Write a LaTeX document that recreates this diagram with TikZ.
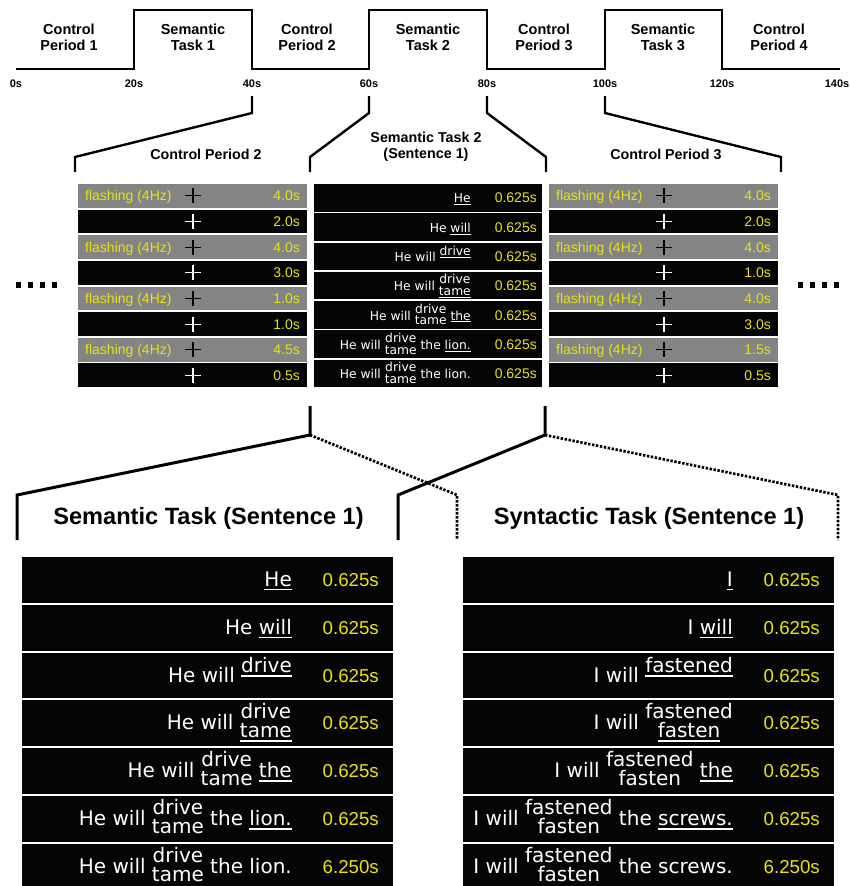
\documentclass[tikz,border=0pt]{standalone}
\usepackage{fontspec}
\setmainfont{Liberation Sans}
\newfontfamily\dejavu{DejaVu Sans}
\definecolor{ylw}{RGB}{232,226,20}
\definecolor{gry}{RGB}{132,132,132}
\definecolor{blk}{RGB}{5,5,5}
\newcommand\ul[1]{\setbox0\hbox{#1}\rlap{\rule[-0.2em]{\wd0}{0.08em}}\box0}
\newcommand\stk[2]{\setbox1\hbox{#1}\setbox2\hbox{#2}%
  \dimen0=\wd1 \ifdim\wd2>\dimen0 \dimen0=\wd2\fi
  \hbox to\dimen0{\hss\raisebox{0.55em}{\box1}\hss}\kern-\dimen0
  \hbox to\dimen0{\hss\raisebox{-0.4em}{\box2}\hss}}
\newcommand\stkt[1]{\raisebox{0.47em}{#1}}
\tikzset{
 tl/.style={line width=2.6pt, line join=miter},
 br/.style={line width=2.4pt, line join=miter},
 bc/.style={line width=3pt, line join=miter},
 bd/.style={line width=2.7pt, dash pattern=on 2.4pt off 1.6pt},
 lab/.style={font=\bfseries\fontsize{14.5}{16.5}\selectfont, align=center, inner sep=0pt},
 tick/.style={font=\bfseries\fontsize{11}{13}\selectfont, inner sep=0pt, anchor=base},
 ttl/.style={font=\bfseries\fontsize{14.3}{16}\selectfont, inner sep=0pt, align=center},
 bttl/.style={font=\bfseries\fontsize{23.6}{26}\selectfont, inner sep=0pt, anchor=base},
 flash/.style={font=\fontsize{14}{16}\selectfont, text=ylw, inner sep=0pt, anchor=base west},
 tsm/.style={font=\fontsize{14}{16}\selectfont, text=ylw, inner sep=0pt, anchor=base east},
 tbg/.style={font=\fontsize{18.7}{22}\selectfont, text=ylw, inner sep=0pt, anchor=base east},
 ssm/.style={font=\dejavu\fontsize{12.3}{14}\selectfont, text=white, inner sep=0pt, anchor=base east},
 sbg/.style={font=\dejavu\fontsize{20}{24}\selectfont, text=white, inner sep=0pt, anchor=base east},
 crw/.style={draw=white, line width=1.05pt},
 crb/.style={draw=black, line width=1.05pt},
}
\newcommand\sidepanel[3]{%
 \foreach \i/\tm in {#3}{%
   \pgfmathsetmacro\yt{184+\i*25.625}%
   \pgfmathsetmacro\yc{\yt+11.9}%
   \ifodd\i
     \fill[blk] (#1,\yt) rectangle ++(229,23.8);
     \draw[crw] (#1+107,\yc) -- ++(16,0) (#1+115,\yc-7.5) -- ++(0,15);
   \else
     \fill[gry] (#1,\yt) rectangle ++(229,23.8);
     \node[flash] (#2f\i) at (#1+7,\yc+5) {flashing (4Hz)};
     \draw[crb] (#1+107,\yc) -- ++(16,0) (#1+115,\yc-7.5) -- ++(0,15);
   \fi
   \node[tsm] (#2t\i) at (#1+222,\yc+5) {\tm};
 }}
\begin{document}
\begin{tikzpicture}[x=1pt,y=-1pt]
\useasboundingbox (0,0) rectangle (849,886);
\fill[white] (0,0) rectangle (849,886);
% timeline
\draw[tl] (16,69) -- (134,69) -- (134,10) -- (252,10) -- (252,69) -- (369,69) -- (369,10) -- (487,10) -- (487,69) -- (605,69) -- (605,10) -- (722,10) -- (722,69) -- (840,69);
\node[lab] (cp1) at (69,37.5) {Control\\Period 1};
\node[lab] (st1) at (193,37.5) {Semantic\\Task 1};
\node[lab] (cp2) at (307,37.5) {Control\\Period 2};
\node[lab] (st2) at (428,37.5) {Semantic\\Task 2};
\node[lab] (cp3) at (544,37.5) {Control\\Period 3};
\node[lab] (st3) at (663,37.5) {Semantic\\Task 3};
\node[lab] (cp4) at (779,37.5) {Control\\Period 4};
\foreach \tm/\x in {0/16,20/134,40/252,60/369,80/487,100/605,120/722}
  \node[tick] (tk\tm) at (\x,87.5) {\tm s};
\node[tick] (tk140) at (837,87.5) {140s};
% middle brackets
\draw[br] (252,96) -- (252,113) -- (75,157) -- (75,172);
\draw[br] (369,96) -- (369,113) -- (310,157) -- (310,172);
\draw[br] (487,96) -- (487,113) -- (546,157) -- (546,172);
\draw[br] (605,96) -- (605,113) -- (781,157) -- (781,172);
\node[ttl, anchor=base] (tcp2) at (206,159.5) {Control Period 2};
\node[ttl] (tst2) at (426,147) {Semantic Task 2\\(Sentence 1)};
\node[ttl, anchor=base] (tcp3) at (666,159.5) {Control Period 3};
% side panels
\sidepanel{78}{L}{0/4.0s,1/2.0s,2/4.0s,3/3.0s,4/1.0s,5/1.0s,6/4.5s,7/0.5s}
\sidepanel{549}{R}{0/4.0s,1/2.0s,2/4.0s,3/1.0s,4/4.0s,5/3.0s,6/1.5s,7/0.5s}
% dots
\foreach \x in {18.5,30.5,42.5,54.5,800.5,812.5,824.5,836.5}
  \fill (\x-2.6,285-2.6) rectangle ++(5.2,5.2);
% centre panel
\foreach \i in {0,...,6} \fill[blk] (314,184+\i*29.29) rectangle ++(228,27.6);
\node[ssm] (c1) at (471,202.8) {\ul{He}};
\node[ssm] (c2) at (471,232.1) {He \ul{will}};
\node[ssm] (c3) at (471,261.4) {He will \stkt{\ul{drive}}};
\node[ssm] (c4) at (471,290.7) {He will \stk{drive}{\ul{tame}}};
\node[ssm] (c5) at (471,320.0) {He will \stk{drive}{tame} \ul{the}};
\node[ssm] (c6) at (471,349.3) {He will \stk{drive}{tame} the \ul{lion.}};
\node[ssm] (c7) at (471,378.5) {He will \stk{drive}{tame} the lion.};
\foreach \i/\y in {1/202.8,2/232.1,3/261.4,4/290.7,5/320.0,6/349.3,7/378.5}
  \node[tsm] (ct\i) at (537,\y) {0.625s};
% bottom connectors
\draw[bc] (310,406) -- (310,435) -- (17,495) -- (17,540);
\draw[bd] (310,435) -- (457,495) -- (457,540);
\draw[bd] (545,435) -- (838,495) -- (838,540);
\draw[bc] (545,406) -- (545,435) -- (398,495) -- (398,540);
\node[bttl] (sem) at (208.5,524) {Semantic Task (Sentence 1)};
\node[bttl] (syn) at (649,524) {Syntactic Task (Sentence 1)};
% bottom panels
\foreach \i in {0,...,5} {
  \fill[blk] (22,557+\i*47.83) rectangle ++(371,45.8);
  \fill[blk] (463,557+\i*47.83) rectangle ++(371,45.8);
}
\fill[blk] (22,844) rectangle (393,886);
\fill[blk] (463,844) rectangle (834,886);
\node[sbg] (a1) at (292,586.4) {\ul{He}};
\node[sbg] (a2) at (292,634.2) {He \ul{will}};
\node[sbg] (a3) at (292,682.1) {He will \stkt{\ul{drive}}};
\node[sbg] (a4) at (292,729.9) {He will \stk{drive}{\ul{tame}}};
\node[sbg] (a5) at (292,777.7) {He will \stk{drive}{tame} \ul{the}};
\node[sbg] (a6) at (292,825.6) {He will \stk{drive}{tame} the \ul{lion.}};
\node[sbg] (a7) at (292,873.4) {He will \stk{drive}{tame} the lion.};
\node[sbg] (b1) at (733,586.4) {\ul{I}};
\node[sbg] (b2) at (733,634.2) {I \ul{will}};
\node[sbg] (b3) at (733,682.1) {I will \stkt{\ul{fastened}}};
\node[sbg] (b4) at (733,729.9) {I will \stk{fastened}{\ul{fasten}}};
\node[sbg] (b5) at (733,777.7) {I will \stk{fastened}{fasten} \ul{the}};
\node[sbg] (b6) at (733,825.6) {I will \stk{fastened}{fasten} the \ul{screws.}};
\node[sbg] (b7) at (733,873.4) {I will \stk{fastened}{fasten} the screws.};
\foreach \i/\y/\tm in {1/586.4/0.625s,2/634.2/0.625s,3/682.1/0.625s,4/729.9/0.625s,5/777.7/0.625s,6/825.6/0.625s,7/873.4/6.250s}{
  \node[tbg] (at\i) at (379,\y) {\tm};
  \node[tbg] (bt\i) at (820,\y) {\tm};
}
\end{tikzpicture}
\end{document}
